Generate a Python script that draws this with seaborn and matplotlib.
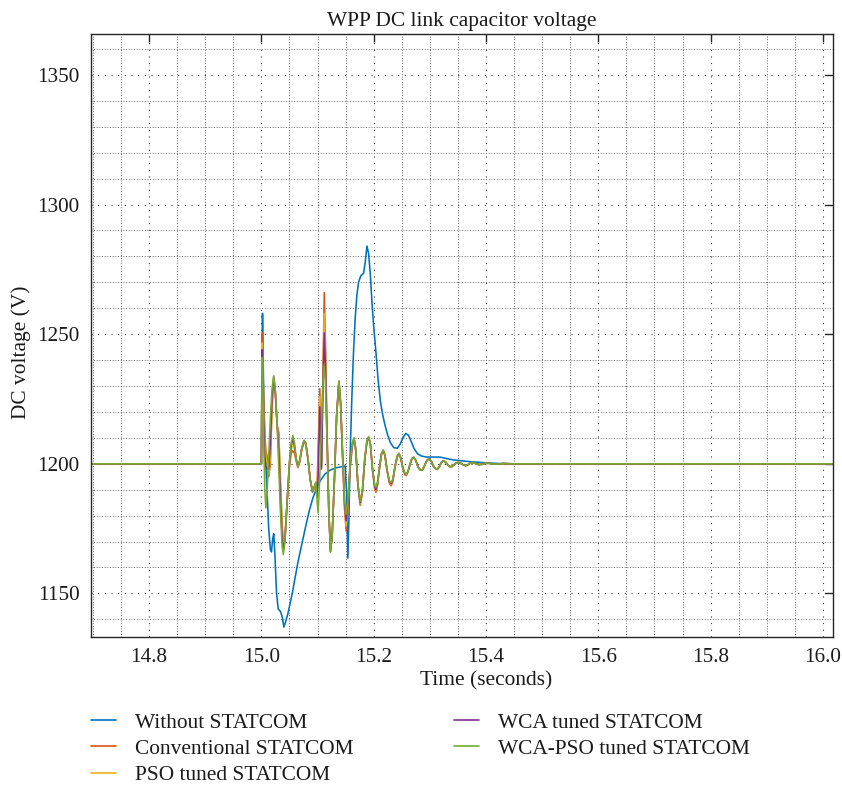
import numpy as np
import pandas as pd
import matplotlib
matplotlib.use("Agg")
import matplotlib.pyplot as plt
from matplotlib.ticker import MultipleLocator
from matplotlib.lines import Line2D
import seaborn as sns

# ---------------- data ----------------
series_names = ["Without STATCOM", "Conventional STATCOM", "PSO tuned STATCOM",
                "WCA tuned STATCOM", "WCA-PSO tuned STATCOM"]
series_colors = ["#0072BD", "#D95319", "#EDB120", "#7E2F8E", "#77AC30"]

t_without = [14.70, 15.000, 15.0008, 15.002, 15.0035, 15.006, 15.010, 15.013, 15.016,
             15.018, 15.020, 15.022, 15.024, 15.027, 15.030, 15.034, 15.037, 15.040,
             15.043, 15.047, 15.050, 15.055, 15.060, 15.065, 15.070, 15.075, 15.080,
             15.086, 15.092, 15.098, 15.105, 15.113, 15.122, 15.132, 15.141, 15.149,
             15.1515, 15.154, 15.156, 15.158, 15.161, 15.164, 15.167, 15.170, 15.173,
             15.177, 15.182, 15.185, 15.188, 15.191, 15.194, 15.197, 15.200, 15.204,
             15.208, 15.212, 15.216, 15.220, 15.225, 15.230, 15.236, 15.242, 15.247,
             15.252, 15.257, 15.262, 15.267, 15.272, 15.278, 15.285, 15.294, 15.305,
             15.318, 15.330, 15.342, 15.355, 15.368, 15.385, 15.405, 15.425, 15.450,
             16.02]
v_without = [1200, 1200, 1230, 1258, 1235, 1208, 1190, 1175, 1167,
             1166, 1171, 1173, 1165, 1150, 1144, 1143, 1141, 1137,
             1139, 1142, 1145, 1150, 1156, 1162, 1167, 1172, 1177,
             1182.5, 1187, 1190.5, 1193.5, 1196, 1197.5, 1198.4, 1198.8, 1199.2,
             1190, 1163.6, 1180, 1203, 1225, 1243, 1256, 1265, 1270,
             1272.5, 1273.5, 1278, 1284, 1281, 1273, 1262, 1253, 1243,
             1232, 1224, 1219, 1215, 1211, 1208, 1206.2, 1206, 1207.5,
             1210, 1211.7, 1211, 1208.5, 1205.8, 1203.9, 1203, 1202.6, 1202.6,
             1202.6, 1202, 1201.5, 1201.2, 1200.9, 1200.6, 1200.3, 1200.1, 1200,
             1200]

# time samples shared by the four controlled cases
t_ctrl = [14.700, 15.000, 15.0005, 15.0015, 15.0025, 15.004, 15.006, 15.008, 15.010, 15.013,
          15.016, 15.019, 15.022, 15.025, 15.028, 15.031, 15.034, 15.037, 15.039, 15.042,
          15.046, 15.050, 15.053, 15.056, 15.059, 15.062, 15.065, 15.068, 15.072, 15.076,
          15.079, 15.083, 15.087, 15.091, 15.094, 15.097, 15.099, 15.101, 15.104, 15.107,
          15.110, 15.112, 15.114, 15.117, 15.120, 15.123, 15.126, 15.130, 15.134, 15.138,
          15.141, 15.145, 15.148, 15.151, 15.154, 15.158, 15.162, 15.165, 15.168, 15.172,
          15.176, 15.180, 15.184, 15.188, 15.191, 15.194, 15.198, 15.202, 15.204, 15.207,
          15.211, 15.214, 15.217, 15.220, 15.224, 15.228, 15.231, 15.234, 15.238, 15.242,
          15.245, 15.248, 15.252, 15.256, 15.258,
          15.261, 15.265, 15.268, 15.271, 15.275, 15.279, 15.283, 15.286, 15.289, 15.293,
          15.296, 15.299, 15.303, 15.307, 15.311, 15.313, 15.317, 15.320, 15.324, 15.328,
          15.332, 15.336, 15.339, 15.343, 15.347, 15.351, 15.355, 15.360, 15.364, 15.368,
          15.372, 15.376, 15.381, 15.387, 15.393, 15.399, 15.405, 15.412, 15.420, 15.430,
          15.445, 16.020]

# common settled tail (t >= 15.261) of the four controlled cases
v_tail = [1197, 1200, 1202, 1202.5, 1201.3, 1198.8, 1197.6, 1197.5, 1198.5, 1200.5,
          1201.6, 1201.8, 1200.8, 1198.8, 1198, 1197.9, 1198.8, 1200.4, 1201.2, 1200.7,
          1199.5, 1198.9, 1198.9, 1199.6, 1200.3, 1200.6, 1200.2, 1199.5, 1199.3, 1199.7,
          1200.3, 1200.5, 1200.1, 1199.7, 1199.8, 1200.2, 1200.2, 1199.9, 1199.9, 1200.1,
          1200, 1200]

v_wcapso_head = [1200, 1200, 1215, 1241, 1232, 1210, 1190, 1183, 1188, 1203,
                 1218, 1229, 1234, 1228, 1215, 1198, 1181, 1168, 1165, 1170,
                 1186, 1201, 1208, 1211, 1208, 1202, 1199, 1201, 1206, 1209,
                 1208, 1202, 1194, 1189.5, 1191, 1193, 1186, 1181, 1195, 1215,
                 1232, 1238, 1231, 1208, 1182, 1166, 1172, 1194, 1219, 1232,
                 1224, 1202, 1186, 1180.5, 1186, 1200, 1208, 1210, 1206, 1192,
                 1185.5, 1190, 1202, 1209, 1210.5, 1208, 1198, 1191.5, 1191, 1193,
                 1200, 1204, 1205.3, 1203.5, 1197.5, 1193.5, 1192.7, 1194, 1199, 1203,
                 1204, 1202.5, 1198.5, 1196.2, 1196]

v_conv_head = [1200, 1200, 1220, 1250.5, 1240, 1225, 1212, 1205, 1203, 1195,
               1200, 1222, 1232, 1226, 1215, 1212, 1193, 1176, 1170, 1172,
               1186, 1199, 1204, 1205, 1204, 1201, 1198.5, 1200.5, 1205.5, 1208.5,
               1207.5, 1201.5, 1193.5, 1189, 1190.5, 1192, 1190, 1205, 1229, 1199,
               1240, 1266, 1248, 1212, 1183, 1167, 1172, 1193, 1218, 1231,
               1223, 1200, 1183, 1174, 1182, 1198, 1207, 1209, 1205, 1191,
               1184, 1189, 1201, 1208.5, 1210, 1207.5, 1197, 1190, 1189, 1192,
               1199.5, 1203.7, 1205, 1203.2, 1197, 1192.5, 1191.5, 1193, 1198.6, 1202.7,
               1203.7, 1202.2, 1198, 1195.6, 1195.5]

v_pso_head = [1200, 1200, 1218, 1246.6, 1237, 1222, 1208, 1203, 1200, 1196,
              1203, 1224, 1233, 1227, 1215, 1209, 1190, 1174, 1168.5, 1171,
              1186, 1200, 1205.5, 1207.5, 1205.5, 1201.5, 1198.8, 1200.8, 1205.8, 1208.8,
              1207.8, 1201.8, 1193.8, 1189.2, 1190.8, 1192.5, 1188, 1200, 1226, 1201,
              1236, 1258, 1242, 1210, 1182.5, 1166.5, 1172, 1193.5, 1218.5, 1231.5,
              1223.5, 1201, 1184.5, 1176, 1183.5, 1199, 1207.5, 1209.5, 1205.5, 1191.5,
              1184.5, 1189.5, 1201.5, 1208.7, 1210.2, 1207.7, 1197.5, 1190.5, 1189.5, 1192.5,
              1199.7, 1203.8, 1205.1, 1203.3, 1197.2, 1193, 1192, 1193.5, 1198.8, 1202.8,
              1203.8, 1202.3, 1198.2, 1195.8, 1195.7]

v_wca_head = [1200, 1200, 1216, 1244, 1235, 1218, 1203, 1199, 1198, 1198,
              1208, 1226, 1233.5, 1227.5, 1215, 1205, 1186, 1171, 1167, 1170.5,
              1186, 1200.5, 1207, 1209.5, 1207, 1202, 1199, 1201, 1206, 1209,
              1208, 1202, 1194, 1189.3, 1191, 1192.7, 1187, 1195, 1222, 1198,
              1234, 1250.5, 1238, 1209, 1182, 1166, 1172, 1194, 1219, 1231.8,
              1224, 1201.5, 1185, 1178, 1185, 1199.5, 1207.7, 1209.8, 1205.8, 1191.8,
              1185, 1189.8, 1201.8, 1208.8, 1210.3, 1207.8, 1197.8, 1191, 1190, 1192.8,
              1199.8, 1204, 1205.2, 1203.4, 1197.4, 1193.2, 1192.3, 1193.8, 1199, 1203,
              1204, 1202.4, 1198.4, 1196, 1195.8]

x_ticks = [14.8, 15.0, 15.2, 15.4, 15.6, 15.8, 16.0]
y_ticks = [1150, 1200, 1250, 1300, 1350]

# ---------------- build table ----------------
ctrl_values = [v_conv_head + v_tail, v_pso_head + v_tail,
               v_wca_head + v_tail, v_wcapso_head + v_tail]
frames = [pd.DataFrame({"t": t_without, "v": v_without, "series": series_names[0]})]
for name, vals in zip(series_names[1:], ctrl_values):
    frames.append(pd.DataFrame({"t": t_ctrl, "v": vals, "series": name}))
df = pd.concat(frames, ignore_index=True)

# ---------------- style ----------------
sns.set_theme(style="white")
plt.rcParams["font.family"] = ["Liberation Serif", "DejaVu Serif"]

FS = 15.4
TXT = "#1a1a1a"

fig = plt.figure(figsize=(8.42, 7.88), dpi=100)
ax = fig.add_axes([90.7 / 842, 1 - 636.7 / 788, (833 - 90.7) / 842, (636.7 - 34) / 788])

palette = dict(zip(series_names, series_colors))
sns.lineplot(data=df, x="t", y="v", hue="series", hue_order=series_names,
             palette=palette, estimator=None, sort=False, linewidth=1.15,
             legend=False, ax=ax)

ax.set_xlim(14.696, 16.018)
ax.set_ylim(1133.3, 1365.8)
ax.set_xticks(x_ticks)
ax.set_xticklabels([f"{x:.1f}" for x in x_ticks])
ax.set_yticks(y_ticks)
ax.set_yticklabels([str(y) for y in y_ticks])
ax.xaxis.set_minor_locator(MultipleLocator(0.05))
ax.yaxis.set_minor_locator(MultipleLocator(10))

ax.grid(which="major", color="#333333", linestyle=(0, (1, 5)), linewidth=0.8)
ax.grid(which="minor", color="#333333", linestyle=(0, (1, 2.2)), linewidth=0.6)
ax.set_axisbelow(True)

ax.tick_params(axis="both", which="major", direction="in", length=6, width=1.0,
               color="#262626", top=True, right=True, labelsize=15.2,
               labelcolor=TXT, pad=8)
ax.tick_params(axis="both", which="minor", length=0)
for s in ax.spines.values():
    s.set_visible(True)
    s.set_color("#262626")
    s.set_linewidth(1.0)

ax.set_xlabel("Time (seconds)", fontsize=FS, color=TXT)
ax.xaxis.set_label_coords(0.5325, -0.057)
ax.set_ylabel("DC voltage (V)", fontsize=FS, color=TXT)
ax.yaxis.set_label_coords(-0.081, 0.4726)
ax.set_title("WPP DC link capacitor voltage", fontsize=FS, color=TXT, pad=6)

handles = [Line2D([0], [0], color=c, lw=1.2) for c in series_colors]
leg_kw = dict(loc="upper left", frameon=False, fontsize=FS, handlelength=1.17,
              handletextpad=0.93, labelspacing=0.3, borderaxespad=0)
leg1 = fig.legend(handles[:3], series_names[:3],
                  bbox_to_anchor=(82 / 842, 1 - 704 / 788), **leg_kw)
leg2 = fig.legend(handles[3:], series_names[3:],
                  bbox_to_anchor=(445 / 842, 1 - 704 / 788), **leg_kw)
for lg in (leg1, leg2):
    for txt in lg.get_texts():
        txt.set_color(TXT)

fig.savefig("out.png", dpi=100)
